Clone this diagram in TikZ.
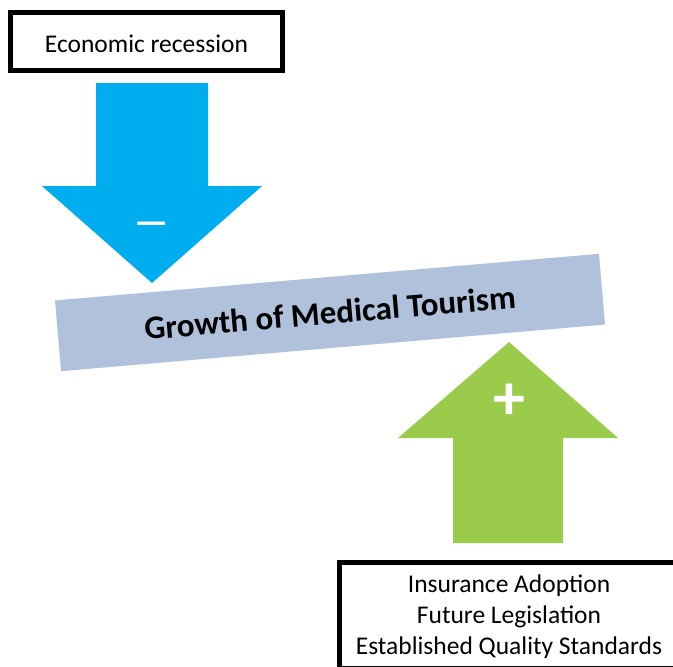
\documentclass[tikz,border=0pt]{standalone}
\usepackage{fontspec}
\setmainfont{Carlito}
\definecolor{downblue}{RGB}{0,174,239}
\definecolor{upgreen}{RGB}{155,203,74}
\definecolor{barblue}{RGB}{176,193,219}
\tikzset{
	factorbox/.style={draw, line width=5pt, align=center, font=\fontsize{25.5}{31}\selectfont},
	signmark/.style={text=white, font=\fontsize{64}{64}\selectfont\bfseries}
}

\begin{document}
\begin{tikzpicture}[x=1pt, y=-1pt]
	\useasboundingbox (0,0) rectangle (673,667);
	\node[factorbox, minimum width=272pt, minimum height=58pt, text height=22pt, text depth=0pt] (recession) at (146.5,41.5) {Economic recession};
	\fill[downblue] (96,83)--(208,83)--(208,186)--(262,186)--(152,283)--(42,186)--(96,186)--cycle;
	\node[signmark, font=\fontsize{38}{38}\selectfont\bfseries] (minus) at (151.5,228) {—};
	\node[fill=barblue, rotate=4.9, minimum width=546pt, minimum height=71pt, font=\fontsize{33}{33}\selectfont\bfseries] (growth) at (330,312.5) {Growth of Medical Tourism};
	\fill[upgreen] (453,543)--(453,438)--(398,438)--(509,342)--(618,438)--(563,438)--(563,543)--cycle;
	\node[signmark] (plus) at (509,402) {+};
	\node[factorbox, minimum width=340pt, minimum height=106pt, text depth=0pt] (drivers) at (509,615) {Insurance Adoption\\Future Legislation\\Established Quality Standards};
\end{tikzpicture}
\end{document}
